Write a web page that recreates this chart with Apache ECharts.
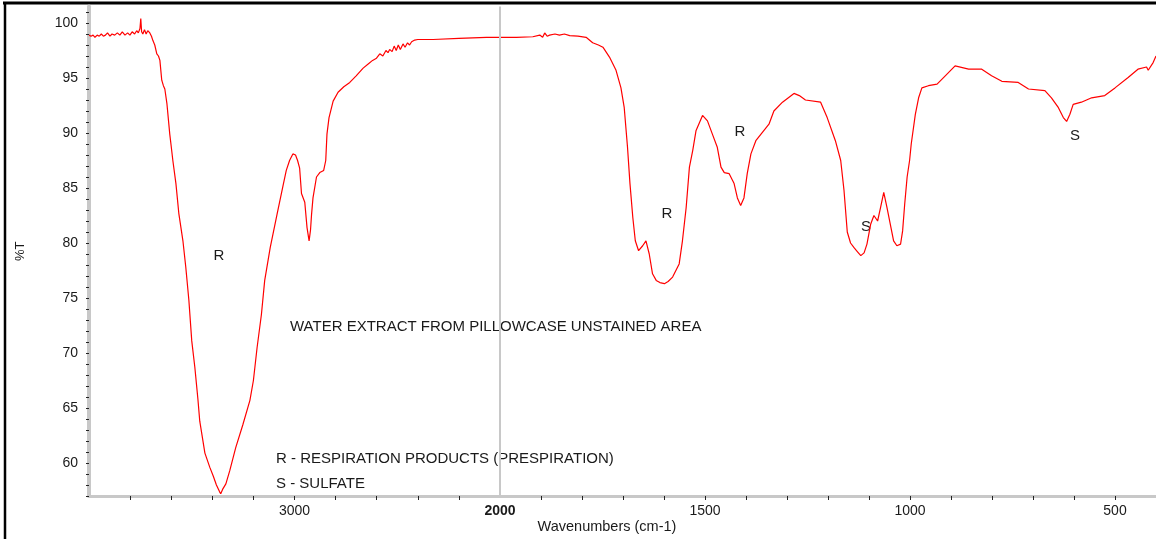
<!DOCTYPE html>
<html>
<head>
<meta charset="utf-8">
<script src="https://cdn.jsdelivr.net/npm/echarts@6/dist/echarts.min.js"></script>
<style>
  html, body { margin: 0; padding: 0; background: #fff; }
  #chart { width: 1156px; height: 539px; }
</style>
</head>
<body>
<div id="chart"></div>
<script>
// spectrum, wavenumber (cm-1) high -> low
var wavenumber = [
  4000, 3990, 3980, 3971, 3960, 3950, 3940, 3930, 3920, 3910, 3898, 3888, 3875, 3862, 3850, 3838,
  3825, 3812, 3801, 3790, 3778, 3768, 3760, 3752, 3748, 3744, 3738, 3730, 3722, 3714, 3704, 3696,
  3689, 3680, 3670, 3662, 3655, 3646, 3638, 3631, 3621, 3607, 3600, 3592, 3577, 3563, 3543, 3529,
  3514, 3500, 3485, 3470, 3461, 3436, 3412, 3395, 3380, 3365, 3359, 3350, 3334, 3315, 3286, 3251,
  3217, 3200, 3182, 3161, 3145, 3118, 3085, 3056, 3040, 3024, 3008, 2995, 2985, 2975, 2966, 2950,
  2939, 2929, 2922, 2917, 2910, 2893, 2877, 2858, 2848, 2842, 2832, 2812, 2788, 2760, 2731, 2700,
  2666, 2640, 2620, 2601, 2585, 2570, 2555, 2545, 2537, 2525, 2515, 2505, 2495, 2485, 2472, 2462,
  2450, 2440, 2430, 2415, 2400, 2326, 2200, 2066, 2000,
  1960, 1920, 1903, 1896, 1891, 1885, 1879, 1866, 1855, 1843, 1830, 1810, 1790, 1774, 1760, 1749,
  1733, 1717, 1705, 1697, 1689, 1683, 1676, 1670, 1662, 1652, 1644, 1636, 1628, 1619, 1610, 1599,
  1590, 1579, 1563, 1555, 1546, 1538, 1530, 1522, 1506, 1494, 1482, 1470, 1461, 1453, 1441, 1429,
  1421, 1413, 1405, 1397, 1388, 1376, 1360, 1344, 1332, 1311, 1283, 1270, 1255, 1218, 1202, 1182,
  1169, 1161, 1153, 1145, 1137, 1128, 1120, 1112, 1105, 1096, 1088, 1079, 1072, 1064, 1056, 1048,
  1040, 1032, 1023, 1018, 1013, 1007, 1001, 997, 987, 979, 971, 955, 934, 914, 890, 857,
  825, 801, 776, 736, 711, 671, 655, 638, 626, 618, 610, 602, 582, 557, 525, 500,
  468, 444, 423, 419, 407, 400
];
var transmittance = [
  98.9, 98.8, 98.9, 98.7, 98.9, 98.8, 99.0, 98.8, 98.9, 99.1, 98.8, 99.0, 98.9, 99.1, 98.9, 99.2,
  98.9, 99.1, 98.9, 99.2, 99.0, 99.3, 99.1, 99.5, 100.4, 99.2, 99.0, 99.4, 99.0, 99.3, 99.1, 98.8,
  98.4, 98.0, 97.2, 97.0, 96.6, 94.8, 94.3, 94.0, 92.7, 89.9, 88.8, 87.5, 85.4, 82.7, 80.2, 77.8,
  74.8, 71.1, 68.7, 65.8, 63.8, 60.9, 59.6, 58.8, 58.0, 57.4, 57.2, 57.6, 58.1, 59.3, 61.4, 63.5,
  65.7, 67.5, 70.5, 73.5, 76.6, 79.6, 82.6, 85.2, 86.6, 87.5, 88.1, 88.0, 87.5, 86.8, 84.5, 83.7,
  81.4, 80.2, 81.2, 82.6, 84.1, 86.0, 86.4, 86.6, 87.5, 89.9, 91.4, 92.9, 93.7, 94.2, 94.6, 95.2,
  95.9, 96.3, 96.6, 96.8, 97.2, 97.0, 97.5, 97.3, 97.6, 97.4, 97.9, 97.5, 98.0, 97.6, 98.1, 97.8,
  98.2, 98.0, 98.3, 98.45, 98.5, 98.5, 98.6, 98.7, 98.7,
  98.7, 98.75, 98.9, 98.7, 99.1, 98.8, 98.9, 99.0, 98.9, 99.0, 98.85, 98.8, 98.7, 98.2, 98.0, 97.8,
  96.9, 95.7, 94.1, 92.3, 88.7, 85.4, 82.3, 80.2, 79.3, 79.75, 80.2, 79.0, 77.2, 76.6, 76.4, 76.3,
  76.5, 76.9, 78.1, 80.2, 83.2, 86.9, 88.4, 90.2, 91.6, 91.1, 89.9, 88.7, 86.9, 86.4, 86.3, 85.4,
  84.1, 83.4, 84.1, 86.3, 88.1, 89.3, 90.05, 90.8, 92.0, 92.8, 93.6, 93.4, 93.0, 92.8, 91.4, 89.3,
  87.5, 84.8, 81.0, 80.0, 79.6, 79.2, 78.85, 79.1, 79.9, 81.7, 82.5, 82.0, 83.2, 84.6, 83.2, 81.7,
  80.2, 79.75, 79.9, 81.1, 83.5, 86.0, 87.5, 89.0, 91.7, 93.2, 94.1, 94.3, 94.45, 95.2, 96.1, 95.8,
  95.8, 95.2, 94.7, 94.6, 94.0, 93.85, 93.2, 92.3, 91.4, 91.05, 91.7, 92.6, 92.8, 93.2, 93.4, 94.1,
  95.05, 95.8, 96.0, 95.7, 96.4, 97.0
];

// tick / label values
var highTicks = [3800, 3600, 3400, 3200, 3000, 2800, 2600, 2400, 2200];
var highLabels = [3000];
var lowTicks = [1900, 1800, 1700, 1600, 1500, 1400, 1300, 1200, 1100, 1000, 900, 800, 700, 600, 500];
var lowLabels = [2000, 1500, 1000, 500];
var yTicks = [];
for (var t = 57; t <= 101; t++) yTicks.push(t);
var yLabels = [60, 65, 70, 75, 80, 85, 90, 95, 100];

var highPart = [], lowPart = [];
for (var i = 0; i < wavenumber.length; i++) {
  if (wavenumber[i] >= 2000) highPart.push([wavenumber[i], transmittance[i]]);
  if (wavenumber[i] <= 2000) lowPart.push([wavenumber[i], transmittance[i]]);
}

var FONT = '"Liberation Sans", Arial, sans-serif';
var axisGray = '#c8c8c8';
var tickCol = '#222';

function xAx(idx, mn, mx, ticks, labels) {
  return {
    type: 'value', gridIndex: idx, inverse: true, min: mn, max: mx,
    axisLine: { show: true, lineStyle: { color: axisGray, width: 3 } },
    axisTick: { show: true, customValues: ticks, length: 4, lineStyle: { color: tickCol, width: 1 } },
    axisLabel: {
      customValues: labels, margin: 8, color: '#1a1a1a', fontFamily: FONT, fontSize: 14,
      formatter: function (v) { return v === 2000 ? '{b|2000}' : String(v); },
      rich: { b: { fontWeight: 'bold', fontFamily: FONT, fontSize: 14, color: '#1a1a1a' } }
    },
    splitLine: { show: false }
  };
}

var chart = echarts.init(document.getElementById('chart'));
chart.setOption({
  animation: false,
  backgroundColor: '#fff',
  grid: [
    { left: 89, top: 6.5, width: 411, height: 489.5 },
    { left: 500, top: 6.5, width: 658, height: 489.5 }
  ],
  xAxis: [
    xAx(0, 2000, 4000, highTicks, highLabels),
    xAx(1, 400, 2000, lowTicks, lowLabels)
  ],
  yAxis: [
    {
      type: 'value', gridIndex: 0, min: 57, max: 101.5,
      name: '%T', nameLocation: 'middle', nameGap: 62, nameRotate: 90,
      nameTextStyle: { fontFamily: FONT, fontSize: 13, color: '#1a1a1a' },
      axisLine: { show: true, lineStyle: { color: axisGray, width: 4 } },
      axisTick: { show: true, customValues: yTicks, length: 3, lineStyle: { color: tickCol, width: 1 } },
      axisLabel: { customValues: yLabels, margin: 11, color: '#1a1a1a', fontFamily: FONT, fontSize: 14 },
      splitLine: { show: false }
    },
    {
      type: 'value', gridIndex: 1, min: 57, max: 101.5, show: false
    }
  ],
  series: [
    {
      type: 'line', xAxisIndex: 0, yAxisIndex: 0, data: highPart,
      showSymbol: false, lineStyle: { color: '#ff0000', width: 1.2 }
    },
    {
      type: 'line', xAxisIndex: 1, yAxisIndex: 1, data: lowPart,
      showSymbol: false, lineStyle: { color: '#ff0000', width: 1.2 },
      markLine: {
        silent: true, symbol: 'none', label: { show: false },
        lineStyle: { color: '#c8c8c8', width: 2, type: 'solid' },
        data: [{ xAxis: 2000 }]
      }
    }
  ],
  graphic: [
    { type: 'line', shape: { x1: 3, y1: 3, x2: 1156, y2: 3 }, style: { stroke: '#000', lineWidth: 3 } },
    { type: 'line', shape: { x1: 5, y1: 2, x2: 5, y2: 539 }, style: { stroke: '#000', lineWidth: 2.5 } },
    { type: 'text', x: 219, y: 256, style: { text: 'R', font: '15px ' + FONT, fill: '#1a1a1a', align: 'center', verticalAlign: 'middle' } },
    { type: 'text', x: 667, y: 214, style: { text: 'R', font: '15px ' + FONT, fill: '#1a1a1a', align: 'center', verticalAlign: 'middle' } },
    { type: 'text', x: 740, y: 132, style: { text: 'R', font: '15px ' + FONT, fill: '#1a1a1a', align: 'center', verticalAlign: 'middle' } },
    { type: 'text', x: 866, y: 227, style: { text: 'S', font: '15px ' + FONT, fill: '#1a1a1a', align: 'center', verticalAlign: 'middle' } },
    { type: 'text', x: 1075, y: 136, style: { text: 'S', font: '15px ' + FONT, fill: '#1a1a1a', align: 'center', verticalAlign: 'middle' } },
    { type: 'text', x: 290, y: 327, style: { text: 'WATER EXTRACT FROM PILLOWCASE UNSTAINED AREA', font: '15px ' + FONT, fill: '#1a1a1a', align: 'left', verticalAlign: 'middle' } },
    { type: 'text', x: 276, y: 459, style: { text: 'R - RESPIRATION PRODUCTS (PRESPIRATION)', font: '15px ' + FONT, fill: '#1a1a1a', align: 'left', verticalAlign: 'middle' } },
    { type: 'text', x: 276, y: 484, style: { text: 'S - SULFATE', font: '15px ' + FONT, fill: '#1a1a1a', align: 'left', verticalAlign: 'middle' } },
    { type: 'text', x: 607, y: 527, style: { text: 'Wavenumbers (cm-1)', font: '14.5px ' + FONT, fill: '#1a1a1a', align: 'center', verticalAlign: 'middle' } }
  ]
});
</script>
</body>
</html>
